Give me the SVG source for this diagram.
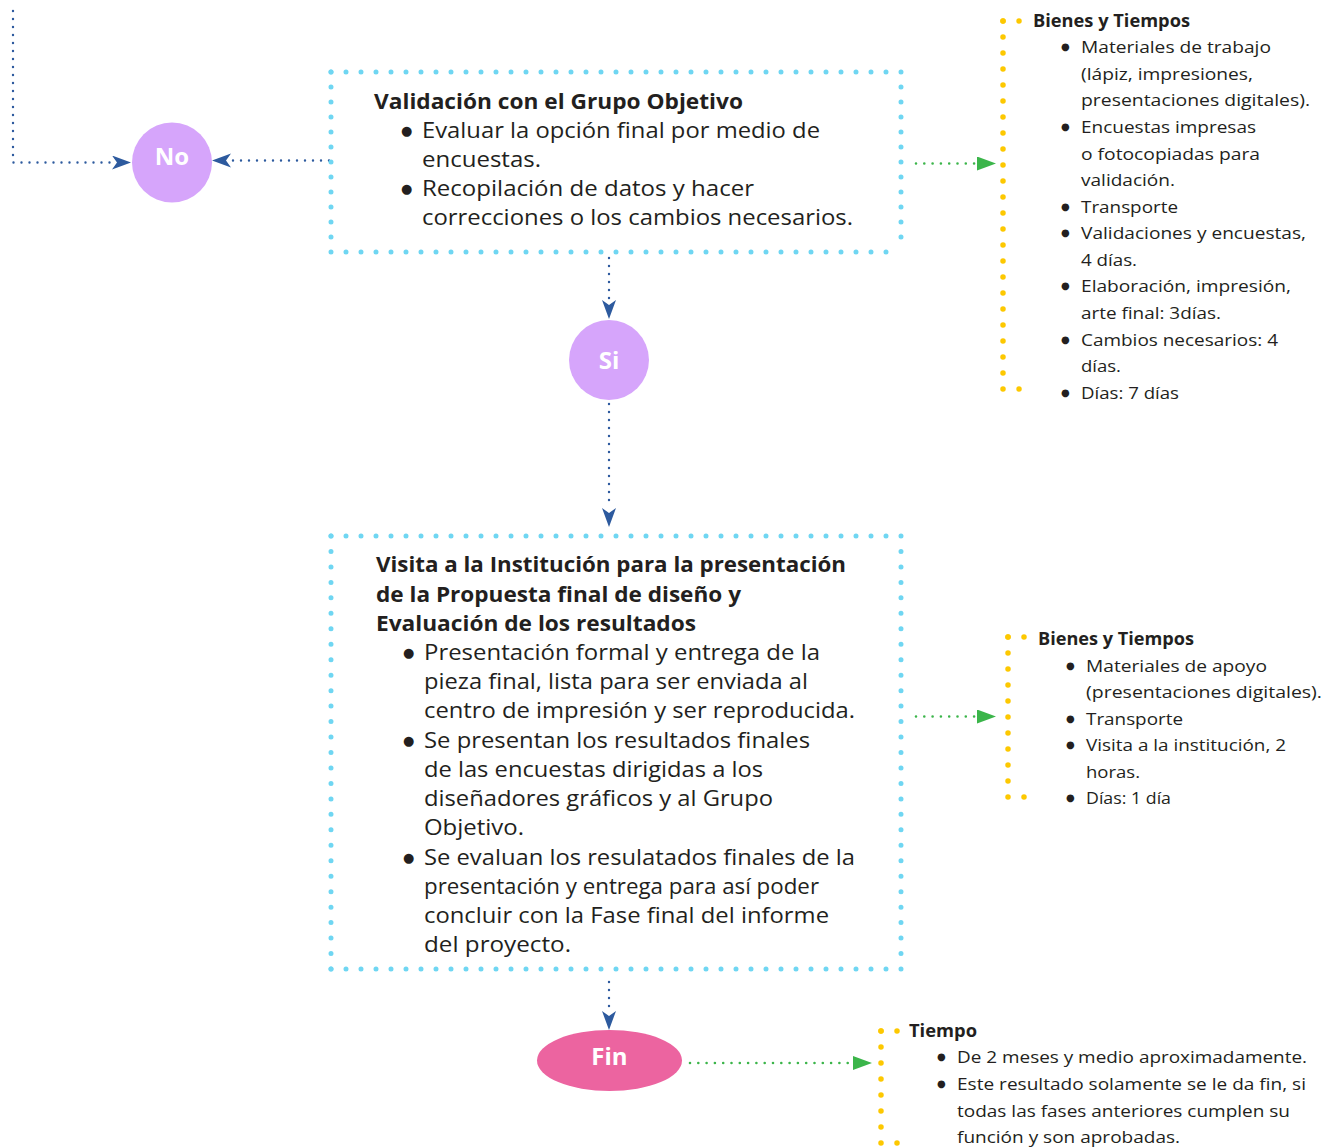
<svg xmlns="http://www.w3.org/2000/svg" width="1338" height="1148" viewBox="0 0 1338 1148">
<style>
.t{font-family:"Open Sans","Noto Sans","Liberation Sans",sans-serif;fill:#231f20}
.b{font-size:21px}
.bb{font-size:21px;font-weight:bold}
.s{font-size:17px}
.sb{font-size:17px;font-weight:bold}
.bl{font-family:"DejaVu Sans",sans-serif;fill:#231f20;font-size:13px}
.bs{font-family:"DejaVu Sans",sans-serif;fill:#231f20;font-size:10px}
.lbl{font-family:"Open Sans","Noto Sans","Liberation Sans",sans-serif;font-size:24px;font-weight:bold;fill:#fff;text-anchor:middle}
.blue{fill:none;stroke:#2d5a9e;stroke-width:2.4;stroke-linecap:round;stroke-dasharray:0 8}
.green{fill:none;stroke:#3bb54a;stroke-width:2.6;stroke-linecap:round;stroke-dasharray:0 8.3}
.cyan{fill:none;stroke:#6fd6f2;stroke-width:5;stroke-linecap:round}
.yel{fill:none;stroke:#fdc800;stroke-width:5.5;stroke-linecap:round;stroke-dasharray:0 16}
</style>
<defs>
<marker id="ab" markerUnits="userSpaceOnUse" markerWidth="20" markerHeight="16" viewBox="0 0 20 16" refX="19" refY="7" orient="auto">
<path d="M0,0 L19,7 L0,14 L5,7 z" fill="#2d5a9e"/>
</marker>
<marker id="ag" markerUnits="userSpaceOnUse" markerWidth="20" markerHeight="16" viewBox="0 0 20 16" refX="19" refY="7" orient="auto">
<path d="M0,0 L19,7 L0,14 z" fill="#3bb54a"/>
</marker>
</defs>

<g id="connectors">
<path class="blue" d="M13,11 L13,162.5 L113,162.5"/>
<path d="M113,162.5 L131,162.5" fill="none" marker-end="url(#ab)"/>
<path class="blue" d="M329,160.5 L231,160.5"/>
<path d="M231,160.5 L212,160.5" fill="none" marker-end="url(#ab)"/>
<path class="blue" d="M609,258 L609,300"/>
<path d="M609,300 L609,319" fill="none" marker-end="url(#ab)"/>
<path class="blue" d="M609,404 L609,508"/>
<path d="M609,508 L609,527" fill="none" marker-end="url(#ab)"/>
<path class="blue" d="M609,982 L609,1011"/>
<path d="M609,1011 L609,1030" fill="none" marker-end="url(#ab)"/>
<path class="green" d="M916,163.5 L975,163.5"/>
<path d="M977,163.5 L996,163.5" fill="none" marker-end="url(#ag)"/>
<path class="green" d="M916,716.5 L975,716.5"/>
<path d="M977,716.5 L996,716.5" fill="none" marker-end="url(#ag)"/>
<path class="green" d="M690,1063 L851,1063"/>
<path d="M853,1063 L872,1063" fill="none" marker-end="url(#ag)"/>
</g>

<g id="node-no">
<circle cx="172" cy="162.5" r="40" fill="#d6a5fb"/>
<text class="lbl" x="172" y="165">No</text>
</g>

<g id="node-validacion">
<path class="cyan" stroke-dasharray="0 15" d="M331,72 L901,72"/>
<path class="cyan" stroke-dasharray="0 15" d="M331,252 L901,252"/>
<path class="cyan" stroke-dasharray="0 15" d="M331,72 L331,252"/>
<path class="cyan" stroke-dasharray="0 15" d="M901,72 L901,252"/>
<text class="t bb" x="374" y="109" textLength="369" lengthAdjust="spacingAndGlyphs">Validación con el Grupo Objetivo</text>
<text class="bl" x="401" y="135">●</text>
<text class="t b" x="422" y="138" textLength="398" lengthAdjust="spacingAndGlyphs">Evaluar la opción final por medio de</text>
<text class="t b" x="422" y="167" textLength="119" lengthAdjust="spacingAndGlyphs">encuestas.</text>
<text class="bl" x="401" y="193">●</text>
<text class="t b" x="422" y="196" textLength="332" lengthAdjust="spacingAndGlyphs">Recopilación de datos y hacer</text>
<text class="t b" x="422" y="225" textLength="431" lengthAdjust="spacingAndGlyphs">correcciones o los cambios necesarios.</text>
</g>

<g id="node-si">
<circle cx="609" cy="360" r="40" fill="#d6a5fb"/>
<text class="lbl" x="609" y="369">Si</text>
</g>

<g id="node-visita">
<path class="cyan" stroke-dasharray="0 15" d="M331,536 L901,536"/>
<path class="cyan" stroke-dasharray="0 15" d="M331,969 L901,969"/>
<path class="cyan" stroke-dasharray="0 15.464" d="M331,536 L331,969"/>
<path class="cyan" stroke-dasharray="0 15.464" d="M901,536 L901,969"/>
<text class="t bb" x="376" y="572" textLength="470" lengthAdjust="spacingAndGlyphs">Visita a la Institución para la presentación</text>
<text class="t bb" x="376" y="602" textLength="365" lengthAdjust="spacingAndGlyphs">de la Propuesta final de diseño y</text>
<text class="t bb" x="376" y="631" textLength="320" lengthAdjust="spacingAndGlyphs">Evaluación de los resultados</text>
<text class="bl" x="403" y="657">●</text>
<text class="t b" x="424" y="660" textLength="396" lengthAdjust="spacingAndGlyphs">Presentación formal y entrega de la</text>
<text class="t b" x="424" y="689" textLength="384" lengthAdjust="spacingAndGlyphs">pieza final, lista para ser enviada al</text>
<text class="t b" x="424" y="718" textLength="431" lengthAdjust="spacingAndGlyphs">centro de impresión y ser reproducida.</text>
<text class="bl" x="403" y="745">●</text>
<text class="t b" x="424" y="748" textLength="386" lengthAdjust="spacingAndGlyphs">Se presentan los resultados finales</text>
<text class="t b" x="424" y="777" textLength="339" lengthAdjust="spacingAndGlyphs">de las encuestas dirigidas a los</text>
<text class="t b" x="424" y="806" textLength="349" lengthAdjust="spacingAndGlyphs">diseñadores gráficos y al Grupo</text>
<text class="t b" x="424" y="835" textLength="100" lengthAdjust="spacingAndGlyphs">Objetivo.</text>
<text class="bl" x="403" y="862">●</text>
<text class="t b" x="424" y="865" textLength="431" lengthAdjust="spacingAndGlyphs">Se evaluan los resulatados finales de la</text>
<text class="t b" x="424" y="894" textLength="395" lengthAdjust="spacingAndGlyphs">presentación y entrega para así poder</text>
<text class="t b" x="424" y="923" textLength="405" lengthAdjust="spacingAndGlyphs">concluir con la Fase final del informe</text>
<text class="t b" x="424" y="952" textLength="147" lengthAdjust="spacingAndGlyphs">del proyecto.</text>
</g>

<g id="node-fin">
<ellipse cx="609.5" cy="1060.5" rx="72.5" ry="30.5" fill="#ec64a0"/>
<text class="lbl" x="609.5" y="1065">Fin</text>
</g>

<g id="note-bienes-1">
<path class="yel" d="M1003,21 L1003,389"/>
<path class="yel" stroke-dasharray="0 18" d="M1003,21 L1021,21"/>
<path class="yel" stroke-dasharray="0 18" d="M1003,389 L1021,389"/>
<text class="t sb" x="1033" y="27" textLength="157" lengthAdjust="spacingAndGlyphs">Bienes y Tiempos</text>
<text class="bs" x="1061" y="50">●</text>
<text class="t s" x="1081" y="53" textLength="190" lengthAdjust="spacingAndGlyphs">Materiales de trabajo</text>
<text class="t s" x="1081" y="80" textLength="172" lengthAdjust="spacingAndGlyphs">(lápiz, impresiones,</text>
<text class="t s" x="1081" y="106" textLength="229" lengthAdjust="spacingAndGlyphs">presentaciones digitales).</text>
<text class="bs" x="1061" y="130">●</text>
<text class="t s" x="1081" y="133" textLength="175" lengthAdjust="spacingAndGlyphs">Encuestas impresas</text>
<text class="t s" x="1081" y="160" textLength="179" lengthAdjust="spacingAndGlyphs">o fotocopiadas para</text>
<text class="t s" x="1081" y="186" textLength="94" lengthAdjust="spacingAndGlyphs">validación.</text>
<text class="bs" x="1061" y="210">●</text>
<text class="t s" x="1081" y="213" textLength="97" lengthAdjust="spacingAndGlyphs">Transporte</text>
<text class="bs" x="1061" y="236">●</text>
<text class="t s" x="1081" y="239" textLength="225" lengthAdjust="spacingAndGlyphs">Validaciones y encuestas,</text>
<text class="t s" x="1081" y="266" textLength="56" lengthAdjust="spacingAndGlyphs">4 días.</text>
<text class="bs" x="1061" y="289">●</text>
<text class="t s" x="1081" y="292" textLength="210" lengthAdjust="spacingAndGlyphs">Elaboración, impresión,</text>
<text class="t s" x="1081" y="319" textLength="140" lengthAdjust="spacingAndGlyphs">arte final: 3días.</text>
<text class="bs" x="1061" y="343">●</text>
<text class="t s" x="1081" y="346" textLength="197" lengthAdjust="spacingAndGlyphs">Cambios necesarios: 4</text>
<text class="t s" x="1081" y="372" textLength="40" lengthAdjust="spacingAndGlyphs">días.</text>
<text class="bs" x="1061" y="396">●</text>
<text class="t s" x="1081" y="399" textLength="98" lengthAdjust="spacingAndGlyphs">Días: 7 días</text>
</g>

<g id="note-bienes-2">
<path class="yel" d="M1008,637 L1008,797"/>
<path class="yel" stroke-dasharray="0 18" d="M1008,637 L1026,637"/>
<path class="yel" stroke-dasharray="0 18" d="M1008,797 L1026,797"/>
<text class="t sb" x="1038" y="645" textLength="156" lengthAdjust="spacingAndGlyphs">Bienes y Tiempos</text>
<text class="bs" x="1066" y="669">●</text>
<text class="t s" x="1086" y="672" textLength="181" lengthAdjust="spacingAndGlyphs">Materiales de apoyo</text>
<text class="t s" x="1086" y="698" textLength="236" lengthAdjust="spacingAndGlyphs">(presentaciones digitales).</text>
<text class="bs" x="1066" y="722">●</text>
<text class="t s" x="1086" y="725" textLength="97" lengthAdjust="spacingAndGlyphs">Transporte</text>
<text class="bs" x="1066" y="748">●</text>
<text class="t s" x="1086" y="751" textLength="200" lengthAdjust="spacingAndGlyphs">Visita a la institución, 2</text>
<text class="t s" x="1086" y="778" textLength="54" lengthAdjust="spacingAndGlyphs">horas.</text>
<text class="bs" x="1066" y="801">●</text>
<text class="t s" x="1086" y="804" textLength="85" lengthAdjust="spacingAndGlyphs">Días: 1 día</text>
</g>

<g id="note-tiempo">
<path class="yel" d="M881,1031 L881,1143"/>
<path class="yel" stroke-dasharray="0 18" d="M881,1031 L899,1031"/>
<path class="yel" stroke-dasharray="0 18" d="M881,1143 L899,1143"/>
<text class="t sb" x="909" y="1037" textLength="68" lengthAdjust="spacingAndGlyphs">Tiempo</text>
<text class="bs" x="937" y="1060">●</text>
<text class="t s" x="957" y="1063" textLength="350" lengthAdjust="spacingAndGlyphs">De 2 meses y medio aproximadamente.</text>
<text class="bs" x="937" y="1087">●</text>
<text class="t s" x="957" y="1090" textLength="349" lengthAdjust="spacingAndGlyphs">Este resultado solamente se le da fin, si</text>
<text class="t s" x="957" y="1117" textLength="333" lengthAdjust="spacingAndGlyphs">todas las fases anteriores cumplen su</text>
<text class="t s" x="957" y="1143" textLength="223" lengthAdjust="spacingAndGlyphs">función y son aprobadas.</text>
</g>
</svg>
